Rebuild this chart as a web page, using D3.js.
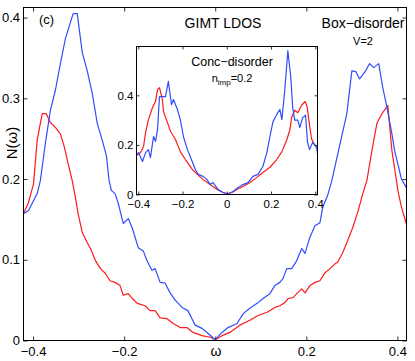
<!DOCTYPE html>
<html>
<head>
<meta charset="utf-8">
<script src="https://cdn.jsdelivr.net/npm/d3@7"></script>
<style>
  body { margin: 0; background: #fff; }
  svg text { font-family: "Liberation Sans", Arial, sans-serif; fill: #000; }
</style>
</head>
<body>
<div id="chart"></div>
<script>
// main panel, box disorder V=2
const mainBlue = [
  [-0.421, 0.157], [-0.410, 0.161], [-0.391, 0.182], [-0.384, 0.198], [-0.373, 0.244],
  [-0.362, 0.285], [-0.351, 0.310], [-0.340, 0.343], [-0.329, 0.374], [-0.312, 0.405],
  [-0.303, 0.405], [-0.292, 0.357], [-0.281, 0.334], [-0.270, 0.306], [-0.259, 0.269],
  [-0.248, 0.248], [-0.239, 0.229], [-0.233, 0.198], [-0.228, 0.186], [-0.220, 0.182],
  [-0.213, 0.170], [-0.202, 0.145], [-0.191, 0.151], [-0.182, 0.139], [-0.175, 0.126],
  [-0.169, 0.115], [-0.158, 0.111], [-0.150, 0.099], [-0.139, 0.087], [-0.132, 0.089],
  [-0.121, 0.072], [-0.110, 0.071], [-0.099, 0.059], [-0.088, 0.050], [-0.073, 0.041],
  [-0.060, 0.037], [-0.044, 0.019], [-0.029, 0.015], [-0.016, 0.009], [0.000, 0.001],
  [0.015, 0.010], [0.028, 0.016], [0.048, 0.021], [0.061, 0.033], [0.076, 0.040],
  [0.092, 0.046], [0.105, 0.052], [0.120, 0.058], [0.131, 0.068], [0.142, 0.072],
  [0.149, 0.077], [0.157, 0.089], [0.168, 0.089], [0.179, 0.099], [0.190, 0.114],
  [0.197, 0.108], [0.208, 0.128], [0.219, 0.142], [0.230, 0.146], [0.236, 0.165],
  [0.247, 0.180], [0.256, 0.198], [0.269, 0.231], [0.289, 0.281], [0.300, 0.334],
  [0.309, 0.333], [0.317, 0.324], [0.328, 0.332], [0.339, 0.343], [0.348, 0.338],
  [0.359, 0.343], [0.368, 0.313], [0.377, 0.289], [0.388, 0.256], [0.394, 0.235],
  [0.409, 0.200], [0.420, 0.189]
];
const mainRed = [
  [-0.421, 0.157], [-0.410, 0.171], [-0.399, 0.194], [-0.391, 0.248], [-0.380, 0.281],
  [-0.371, 0.281], [-0.362, 0.270], [-0.351, 0.264], [-0.340, 0.256], [-0.332, 0.241],
  [-0.323, 0.219], [-0.314, 0.198], [-0.307, 0.177], [-0.301, 0.157], [-0.292, 0.134],
  [-0.281, 0.121], [-0.274, 0.114], [-0.263, 0.099], [-0.252, 0.089], [-0.241, 0.083],
  [-0.231, 0.074], [-0.220, 0.072], [-0.209, 0.068], [-0.202, 0.056], [-0.191, 0.058],
  [-0.182, 0.052], [-0.171, 0.046], [-0.154, 0.043], [-0.143, 0.037], [-0.132, 0.037],
  [-0.121, 0.028], [-0.106, 0.027], [-0.092, 0.021], [-0.077, 0.016], [-0.062, 0.016],
  [-0.049, 0.010], [-0.029, 0.006], [-0.011, 0.004], [0.000, 0.001], [0.015, 0.006],
  [0.032, 0.010], [0.054, 0.019], [0.076, 0.025], [0.094, 0.031], [0.114, 0.035],
  [0.131, 0.041], [0.142, 0.043], [0.153, 0.047], [0.160, 0.052], [0.171, 0.053],
  [0.179, 0.058], [0.190, 0.064], [0.197, 0.059], [0.208, 0.068], [0.219, 0.072],
  [0.230, 0.074], [0.241, 0.084], [0.252, 0.089], [0.263, 0.095], [0.269, 0.097],
  [0.280, 0.109], [0.291, 0.124], [0.302, 0.140], [0.313, 0.159], [0.324, 0.182],
  [0.333, 0.198], [0.344, 0.235], [0.355, 0.269], [0.366, 0.281], [0.379, 0.291],
  [0.388, 0.235], [0.398, 0.198], [0.401, 0.186], [0.409, 0.165], [0.420, 0.144]
];

// inset, concentration disorder n_imp=0.2
const insetBlue = [
  [-0.408, 0.161], [-0.399, 0.169], [-0.381, 0.133], [-0.367, 0.169], [-0.354, 0.181],
  [-0.345, 0.149], [-0.331, 0.234], [-0.322, 0.214], [-0.313, 0.262], [-0.304, 0.395],
  [-0.277, 0.395], [-0.264, 0.456], [-0.250, 0.363], [-0.241, 0.383], [-0.223, 0.343],
  [-0.210, 0.302], [-0.196, 0.234], [-0.178, 0.181], [-0.165, 0.153], [-0.142, 0.101],
  [-0.129, 0.081], [-0.107, 0.073], [-0.089, 0.060], [-0.075, 0.040], [-0.062, 0.048],
  [-0.039, 0.020], [-0.017, 0.008], [0.006, 0.002], [0.028, 0.012], [0.051, 0.028],
  [0.073, 0.040], [0.096, 0.048], [0.118, 0.073], [0.141, 0.081], [0.163, 0.113],
  [0.181, 0.169], [0.195, 0.234], [0.209, 0.294], [0.226, 0.323], [0.240, 0.343],
  [0.249, 0.302], [0.262, 0.420], [0.276, 0.580], [0.289, 0.476], [0.298, 0.350],
  [0.307, 0.300], [0.321, 0.300], [0.330, 0.270], [0.343, 0.310], [0.356, 0.320],
  [0.365, 0.210], [0.374, 0.181], [0.388, 0.210], [0.406, 0.190], [0.410, 0.165]
];
const insetRed = [
  [-0.408, 0.157], [-0.390, 0.169], [-0.376, 0.194], [-0.367, 0.250], [-0.354, 0.302],
  [-0.336, 0.350], [-0.322, 0.375], [-0.313, 0.423], [-0.304, 0.431], [-0.291, 0.383],
  [-0.286, 0.335], [-0.268, 0.290], [-0.254, 0.254], [-0.232, 0.222], [-0.210, 0.173],
  [-0.187, 0.141], [-0.156, 0.101], [-0.133, 0.081], [-0.107, 0.060], [-0.075, 0.040],
  [-0.044, 0.020], [-0.017, 0.008], [0.001, 0.004], [0.024, 0.008], [0.046, 0.020],
  [0.073, 0.032], [0.105, 0.048], [0.136, 0.069], [0.163, 0.089], [0.195, 0.110],
  [0.226, 0.141], [0.249, 0.173], [0.271, 0.220], [0.285, 0.260], [0.293, 0.310],
  [0.307, 0.340], [0.321, 0.330], [0.338, 0.360], [0.354, 0.375], [0.363, 0.355],
  [0.374, 0.280], [0.383, 0.225], [0.397, 0.200], [0.410, 0.185]
];

const mainXTicks = [-0.4, -0.2, 0, 0.2, 0.4];
const mainYTicks = [0, 0.1, 0.2, 0.3, 0.4];
const insetXTicks = [-0.4, -0.2, 0, 0.2, 0.4];
const insetYTicks = [0, 0.2, 0.4];

const blue = "#2f4dff", red = "#ff1a1a";
const W = 415, H = 361;

const svg = d3.select("#chart").append("svg")
  .attr("width", W).attr("height", H);

const fmt = d => d === 0 ? "0" : d3.format(".1f")(d).replace("-", "\u2212");

function panel(g, o) {
  const x = d3.scaleLinear().domain(o.xd).range([0, o.w]);
  const y = d3.scaleLinear().domain(o.yd).range([o.h, 0]);

  g.append("rect")
    .attr("width", o.w).attr("height", o.h)
    .attr("fill", "#fff");

  const line = d3.line().x(d => x(d[0])).y(d => y(d[1]));
  const clipId = o.id + "-clip";
  g.append("clipPath").attr("id", clipId)
    .append("rect").attr("width", o.w).attr("height", o.h);
  const lines = g.append("g").attr("clip-path", `url(#${clipId})`);
  o.series.forEach(s => {
    lines.append("path")
      .datum(s.data)
      .attr("fill", "none")
      .attr("stroke", s.color)
      .attr("stroke-width", 1.2)
      .attr("stroke-linejoin", "round")
      .attr("d", line);
  });

  // inward ticks, all four sides
  g.append("g")
    .attr("transform", `translate(0,${o.h})`)
    .call(d3.axisBottom(x).tickValues(o.xt).tickSize(-o.tick).tickPadding(o.tick + o.xpad).tickFormat(o.xfmt || fmt))
    .call(a => a.select(".domain").remove())
    .selectAll("text").attr("font-size", o.fs);
  g.append("g")
    .call(d3.axisLeft(y).tickValues(o.yt).tickSize(-o.tick).tickPadding(o.ypad).tickFormat(fmt))
    .call(a => a.select(".domain").remove())
    .selectAll("text").attr("font-size", o.fs);
  g.append("g")
    .call(d3.axisTop(x).tickValues(o.xt).tickSize(-o.tick).tickFormat(""))
    .call(a => a.select(".domain").remove());
  g.append("g")
    .attr("transform", `translate(${o.w},0)`)
    .call(d3.axisRight(y).tickValues(o.yt).tickSize(-o.tick).tickFormat(""))
    .call(a => a.select(".domain").remove());
  g.selectAll(".tick line").attr("stroke", "#333");

  g.append("rect")
    .attr("width", o.w).attr("height", o.h)
    .attr("fill", "none").attr("stroke", "#000").attr("stroke-width", 1);
  return { x, y };
}

const mainG = svg.append("g").attr("transform", "translate(23.5,7.5)");
panel(mainG, {
  id: "main", w: 383, h: 333,
  xd: [-0.421, 0.42], yd: [0, 0.4125],
  xt: mainXTicks, yt: mainYTicks,
  xfmt: d => d === 0 ? "" : fmt(d),
  tick: 4, fs: 13, xpad: 2, ypad: 3.5,
  series: [{ data: mainRed, color: red }, { data: mainBlue, color: blue }]
});

const insetG = svg.append("g").attr("transform", "translate(136.5,46.5)");
panel(insetG, {
  id: "inset", w: 181, h: 148,
  xd: [-0.408, 0.41], yd: [0, 0.597],
  xt: insetXTicks, yt: insetYTicks,
  tick: 3, fs: 11.5, xpad: 2, ypad: 3,
  series: [{ data: insetRed, color: red }, { data: insetBlue, color: blue }]
});

// labels
svg.append("text").attr("x", 39).attr("y", 24).attr("font-size", 13).text("(c)");
svg.append("text").attr("x", 223).attr("y", 28).attr("font-size", 14)
  .attr("text-anchor", "middle").text("GIMT LDOS");
svg.append("text").attr("x", 363).attr("y", 28).attr("font-size", 14)
  .attr("text-anchor", "middle").text("Box\u2212disorder");
svg.append("text").attr("x", 363).attr("y", 45).attr("font-size", 11)
  .attr("text-anchor", "middle").text("V=2");
svg.append("text").attr("x", 232).attr("y", 66).attr("font-size", 12.5)
  .attr("text-anchor", "middle").text("Conc\u2212disorder");
const nimp = svg.append("text").attr("x", 232).attr("y", 82).attr("font-size", 11)
  .attr("text-anchor", "middle");
nimp.append("tspan").text("n");
nimp.append("tspan").attr("font-size", 8).attr("dy", 3).text("imp");
nimp.append("tspan").attr("dy", -3).text("=0.2");

svg.append("text").attr("x", 216).attr("y", 356).attr("font-size", 14)
  .attr("text-anchor", "middle").text("\u03c9");
svg.append("text")
  .attr("transform", "translate(17,143) rotate(-90)")
  .attr("font-size", 15).attr("text-anchor", "middle").text("N(\u03c9)");
</script>
</body>
</html>
